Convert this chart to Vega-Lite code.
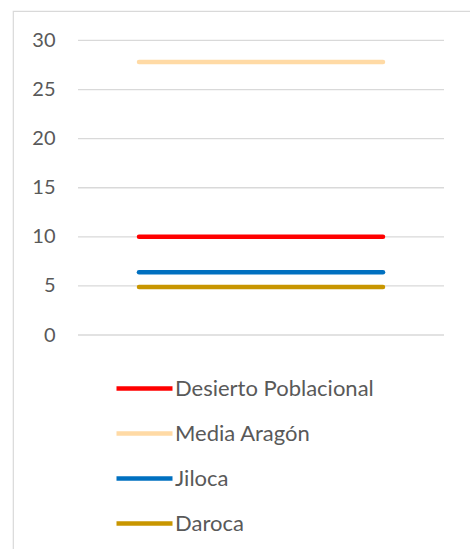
{
  "$schema": "https://vega.github.io/schema/vega-lite/v6.json",
  "width": 460,
  "height": 540,
  "autosize": "none",
  "padding": {"left": 13, "top": 11, "right": 0, "bottom": 0},
  "background": "white",
  "config": {
    "view": {"stroke": "#d9d9d9", "strokeWidth": 1.2},
    "font": "Lato"
  },
  "datasets": {
    "series": [
      {"serie": "Desierto Poblacional", "x": 1, "value": 10},
      {"serie": "Desierto Poblacional", "x": 2, "value": 10},
      {"serie": "Desierto Poblacional", "x": 3, "value": 10},
      {"serie": "Media Aragón", "x": 1, "value": 27.8},
      {"serie": "Media Aragón", "x": 2, "value": 27.8},
      {"serie": "Media Aragón", "x": 3, "value": 27.8},
      {"serie": "Jiloca", "x": 1, "value": 6.4},
      {"serie": "Jiloca", "x": 2, "value": 6.4},
      {"serie": "Jiloca", "x": 3, "value": 6.4},
      {"serie": "Daroca", "x": 1, "value": 4.9},
      {"serie": "Daroca", "x": 2, "value": 4.9},
      {"serie": "Daroca", "x": 3, "value": 4.9}
    ],
    "grid": [
      {"v": 0}, {"v": 5}, {"v": 10}, {"v": 15}, {"v": 20}, {"v": 25}, {"v": 30}
    ]
  },
  "layer": [
    {
      "data": {"name": "grid"},
      "mark": {"type": "rule", "color": "#d9d9d9", "strokeWidth": 1.3},
      "encoding": {
        "y": {
          "field": "v",
          "type": "quantitative",
          "scale": {"domain": [-22.0, 33.0], "nice": false, "zero": false},
          "axis": {
            "title": null,
            "values": [0, 5, 10, 15, 20, 25, 30],
            "grid": false,
            "domain": false,
            "ticks": false,
            "offset": -65,
            "labelPadding": 23,
            "labelFontSize": 20,
            "labelColor": "#595959",
            "labelFont": "Lato"
          }
        },
        "x": {
          "datum": 0.5,
          "type": "quantitative",
          "scale": {"domain": [-0.0328, 3.7377], "nice": false, "zero": false},
          "axis": null
        },
        "x2": {"datum": 3.5}
      }
    },
    {
      "data": {"name": "series"},
      "mark": {"type": "line", "strokeWidth": 4.5, "strokeCap": "round"},
      "encoding": {
        "x": {"field": "x", "type": "quantitative", "axis": null},
        "y": {"field": "value", "type": "quantitative"},
        "color": {
          "field": "serie",
          "type": "nominal",
          "scale": {
            "domain": ["Desierto Poblacional", "Media Aragón", "Jiloca", "Daroca"],
            "range": ["#ff0000", "#ffdaa5", "#0070c0", "#c89600"]
          },
          "legend": {
            "title": null,
            "orient": "none",
            "direction": "vertical",
            "legendX": 101,
            "legendY": 347,
            "padding": 0,
            "symbolType": "stroke",
            "symbolSize": 3136,
            "symbolStrokeWidth": 4.5,
            "labelFontSize": 22,
            "labelColor": "#595959",
            "labelFont": "Lato",
            "labelOffset": 0,
            "labelLimit": 400,
            "rowPadding": 3
          }
        }
      }
    }
  ]
}
